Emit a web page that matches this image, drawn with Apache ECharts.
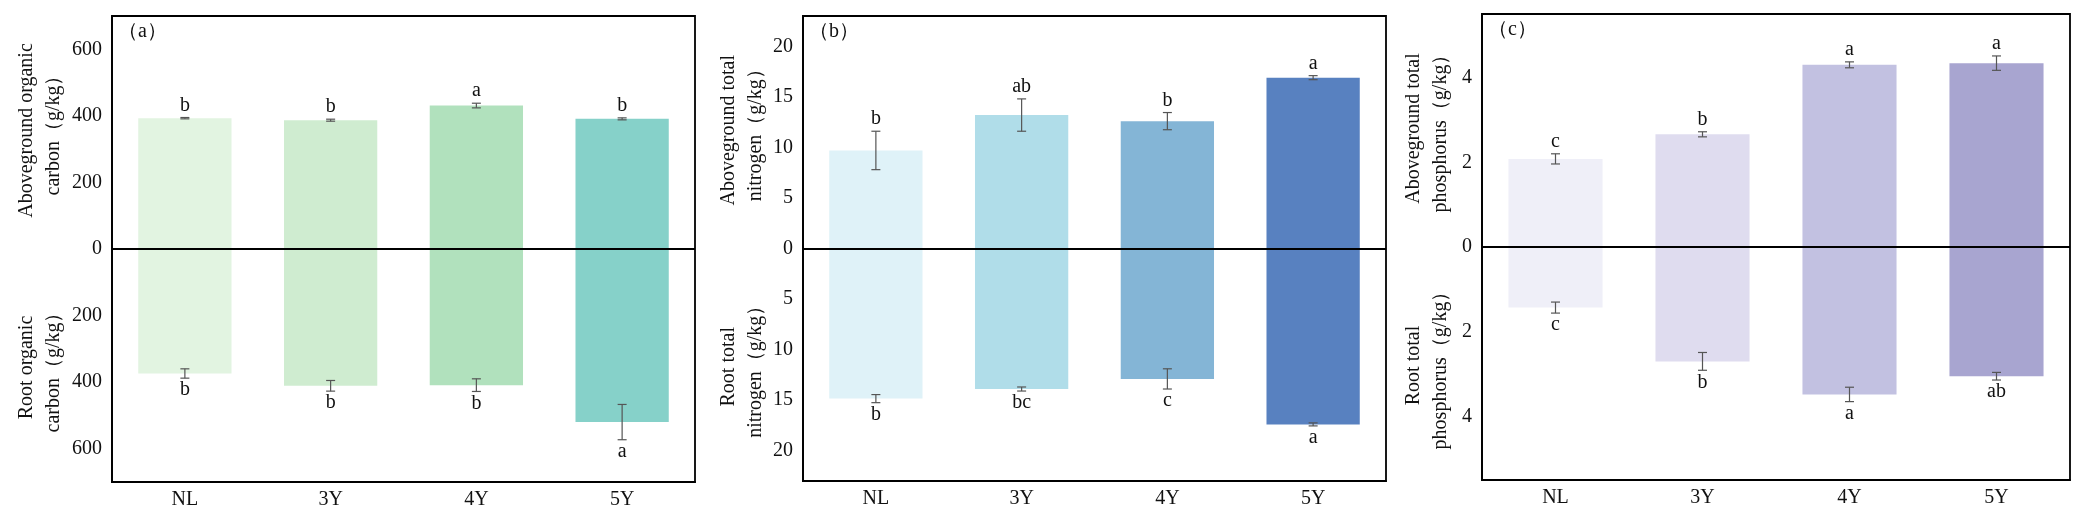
<!DOCTYPE html>
<html>
<head>
<meta charset="utf-8">
<script src="https://cdn.jsdelivr.net/npm/echarts@6/dist/echarts.min.js"></script>
<style>
    html, body {margin: 0; padding: 0; background: #fff;}
    #main {width: 2074px; height: 524px;}
</style>
</head>
<body>
<div id="main"></div>
<script>
// data
var categories = ['NL', '3Y', '4Y', '5Y'];

// (a) organic carbon, g/kg
var carbonAbove = [393, 387, 431, 391];
var carbonAboveErr = [2, 3, 7, 3];
var carbonAboveSig = ['b', 'b', 'a', 'b'];
var carbonRoot = [374, 411, 409, 520];
var carbonRootErr = [14, 16, 19, 53];
var carbonRootSig = ['b', 'b', 'b', 'a'];

// (b) total nitrogen, g/kg
var nitrogenAbove = [9.7, 13.2, 12.6, 16.9];
var nitrogenAboveErr = [1.9, 1.6, 0.85, 0.2];
var nitrogenAboveSig = ['b', 'ab', 'b', 'a'];
var nitrogenRoot = [14.85, 13.9, 12.9, 17.4];
var nitrogenRootErr = [0.4, 0.2, 1.0, 0.15];
var nitrogenRootSig = ['b', 'bc', 'c', 'a'];

// (c) total phosphorus, g/kg
var phosphorusAbove = [2.08, 2.66, 4.30, 4.34];
var phosphorusAboveErr = [0.12, 0.06, 0.07, 0.17];
var phosphorusAboveSig = ['c', 'b', 'a', 'a'];
var phosphorusRoot = [1.43, 2.70, 3.48, 3.05];
var phosphorusRootErr = [0.13, 0.21, 0.17, 0.09];
var phosphorusRootSig = ['c', 'b', 'a', 'ab'];

var serif = '"Liberation Serif", "Times New Roman", serif';
var fs = 20;

var panels = [
    {
        tag: '（a）', limit: 700, split: 7,
        grid: {left: 112, right: 1379, top: 16, bottom: 42},
        colors: ['#e2f4e1', '#cfecd0', '#b1e1bd', '#86d1c9'],
        above: carbonAbove, aboveErr: carbonAboveErr, aboveSig: carbonAboveSig,
        root: carbonRoot, rootErr: carbonRootErr, rootSig: carbonRootSig,
        nameUp: 'Aboveground organic\ncarbon（g/kg）', nameDown: 'Root organic\ncarbon（g/kg）',
        nameX: 40
    },
    {
        tag: '（b）', limit: 23, split: 9,
        grid: {left: 803, right: 688, top: 16, bottom: 43},
        colors: ['#dff2f8', '#b0dde9', '#84b5d6', '#5881c0'],
        above: nitrogenAbove, aboveErr: nitrogenAboveErr, aboveSig: nitrogenAboveSig,
        root: nitrogenRoot, rootErr: nitrogenRootErr, rootSig: nitrogenRootSig,
        nameUp: 'Aboveground total\nnitrogen（g/kg）', nameDown: 'Root total\nnitrogen（g/kg）',
        nameX: 742
    },
    {
        tag: '（c）', limit: 5.5, split: 5,
        grid: {left: 1482, right: 4, top: 14, bottom: 44},
        colors: ['#efeff8', '#dfdcef', '#c2c1e1', '#a8a5d0'],
        above: phosphorusAbove, aboveErr: phosphorusAboveErr, aboveSig: phosphorusAboveSig,
        root: phosphorusRoot, rootErr: phosphorusRootErr, rootSig: phosphorusRootSig,
        nameUp: 'Aboveground total\nphosphorus（g/kg）', nameDown: 'Root total\nphosphorus（g/kg）',
        nameX: 1427
    }
];

function errorSeries(idx, values, errs, sigs, sign) {
    return {
        type: 'custom',
        xAxisIndex: idx,
        yAxisIndex: idx,
        z: 5,
        silent: true,
        data: values.map(function (v, i) {
            return [i, sign * v, errs[i]];
        }),
        renderItem: function (params, api) {
            var x = api.value(0), v = api.value(1), e = api.value(2);
            var lo = api.coord([x, v - e]);
            var hi = api.coord([x, v + e]);
            var cap = 4.5;
            var style = {stroke: '#555', lineWidth: 1.2};
            var ty = sign > 0 ? Math.min(lo[1], hi[1]) - 12 : Math.max(lo[1], hi[1]) + 12;
            return {
                type: 'group',
                children: [
                    {type: 'line', shape: {x1: lo[0], y1: lo[1], x2: hi[0], y2: hi[1]}, style: style},
                    {type: 'line', shape: {x1: lo[0] - cap, y1: lo[1], x2: lo[0] + cap, y2: lo[1]}, style: style},
                    {type: 'line', shape: {x1: hi[0] - cap, y1: hi[1], x2: hi[0] + cap, y2: hi[1]}, style: style},
                    {
                        type: 'text',
                        x: lo[0], y: ty,
                        style: {
                            text: sigs[params.dataIndex],
                            font: fs + 'px ' + serif,
                            fill: '#111',
                            textAlign: 'center',
                            textVerticalAlign: 'middle'
                        }
                    }
                ]
            };
        }
    };
}

var grids = [], xAxes = [], yAxes = [], series = [], graphics = [];

panels.forEach(function (p, idx) {
    grids.push({
        left: p.grid.left, right: p.grid.right, top: p.grid.top, bottom: p.grid.bottom,
        show: true, borderColor: '#000', borderWidth: 1.8, backgroundColor: 'transparent'
    });
    xAxes.push({
        type: 'category',
        gridIndex: idx,
        data: categories,
        axisLine: {onZero: false, lineStyle: {color: '#000', width: 1.8}},
        axisTick: {alignWithLabel: true, inside: true, length: 10, lineStyle: {color: '#000', width: 1.4}},
        axisLabel: {color: '#111', fontFamily: serif, fontSize: fs, margin: 8},
        splitLine: {show: false}
    });
    yAxes.push({
        type: 'value',
        gridIndex: idx,
        min: -p.limit,
        max: p.limit,
        splitNumber: p.split,
        axisLine: {show: true, lineStyle: {color: '#000', width: 1.8}},
        axisTick: {inside: true, length: 9, lineStyle: {color: '#000', width: 1.4}},
        axisLabel: {
            color: '#111', fontFamily: serif, fontSize: fs, margin: 10,
            showMinLabel: false, showMaxLabel: false,
            formatter: function (v) {
                return String(Math.abs(v));
            }
        },
        splitLine: {show: false}
    });

    var colorFn = function (params) {
        return p.colors[params.dataIndex];
    };
    series.push({
        type: 'bar',
        xAxisIndex: idx,
        yAxisIndex: idx,
        barWidth: '64%',
        barGap: '-100%',
        itemStyle: {color: colorFn},
        data: p.above,
        markLine: {
            silent: true,
            symbol: 'none',
            label: {show: false},
            lineStyle: {color: '#000', width: 2.2, type: 'solid'},
            data: [{yAxis: 0}]
        }
    });
    series.push({
        type: 'bar',
        xAxisIndex: idx,
        yAxisIndex: idx,
        barWidth: '64%',
        barGap: '-100%',
        itemStyle: {color: colorFn},
        data: p.root.map(function (v) {
            return -v;
        })
    });
    series.push(errorSeries(idx, p.above, p.aboveErr, p.aboveSig, 1));
    series.push(errorSeries(idx, p.root, p.rootErr, p.rootSig, -1));

    var top = p.grid.top, bottom = 524 - p.grid.bottom, mid = (top + bottom) / 2;
    graphics.push({
        type: 'text', left: p.grid.left + 6, top: top + 6,
        style: {text: p.tag, font: fs + 'px ' + serif, fill: '#111'}
    });
    graphics.push({
        type: 'text', x: p.nameX, y: (top + mid) / 2 - 2, rotation: Math.PI / 2,
        style: {text: p.nameUp, font: fs + 'px ' + serif, fill: '#111', textAlign: 'center', textVerticalAlign: 'middle', lineHeight: 27}
    });
    graphics.push({
        type: 'text', x: p.nameX, y: (mid + bottom) / 2 + 2, rotation: Math.PI / 2,
        style: {text: p.nameDown, font: fs + 'px ' + serif, fill: '#111', textAlign: 'center', textVerticalAlign: 'middle', lineHeight: 27}
    });
});

var myChart = echarts.init(document.getElementById('main'));
myChart.setOption({
    animation: false,
    backgroundColor: '#fff',
    grid: grids,
    xAxis: xAxes,
    yAxis: yAxes,
    series: series,
    graphic: graphics
});
</script>
</body>
</html>
